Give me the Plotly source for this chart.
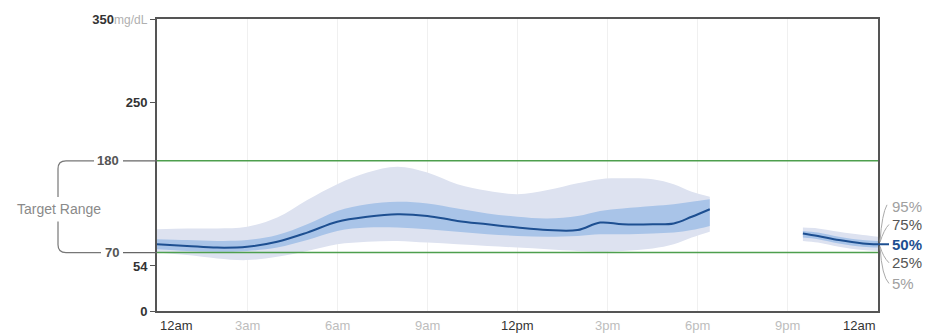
import plotly.graph_objects as go

# Ambulatory glucose profile: hour of day vs percentile glucose (mg/dL)
# Two data segments (no readings between ~6:30pm and 9:30pm)
hours_a = [0, 1, 2, 3, 4, 5, 6, 7, 8, 9, 10, 11, 12, 13, 14, 14.75, 15.5, 16.5, 17.2, 17.8, 18.4]
p95_a = [98, 99, 99, 101, 112, 133, 152, 166, 173, 166, 152, 144, 140, 145, 153, 158, 159, 158, 152, 143, 137]
p75_a = [86, 85, 84, 85, 91, 104, 120, 128, 131, 129, 123, 117, 113, 111, 114, 120, 123, 126, 128, 131, 134]
p50_a = [80, 78, 76, 77, 83, 94, 107, 113, 116, 114, 108, 104, 100, 97, 97, 106, 104, 104, 105, 113, 122]
p25_a = [74, 72, 71, 72, 76, 85, 96, 100, 100, 98, 95, 92, 90, 89, 90, 92, 92, 93, 94, 97, 102]
p5_a = [70, 67, 63, 61, 65, 72, 80, 83, 84, 82, 80, 78, 76, 74, 72, 71, 72, 75, 80, 88, 95]

hours_b = [21.5, 22, 22.7, 23.5, 24]
p95_b = [100, 99, 95, 91, 89]
p75_b = [96, 94, 89, 85, 84]
p50_b = [93, 90, 85, 81, 80]
p25_b = [88, 86, 81, 77, 76]
p5_b = [84, 82, 77, 73, 72]

target_low, target_high = 70, 180
y_ticks = [0, 54, 250, 350]
x_ticks = [0, 3, 6, 9, 12, 15, 18, 21, 24]
x_labels = ["12am", "3am", "6am", "9am", "12pm", "3pm", "6pm", "9pm", "12am"]
pct_labels = ["95%", "75%", "50%", "25%", "5%"]

# Plot box in pixels
W, H = 928, 336
L, R, T, B = 157, 878, 14, 311


def px(x):
    return (x - L) / (R - L)


def py(y):
    return (B - y) / (B - T)


def ypix(v):
    return B - (v / 350) * (B - T)


OUTER = "#dde2f0"
INNER = "#a9c4e8"
MEDIAN = "#1d4f91"
GREEN = "#4e9f4e"
FONT = "Liberation Sans, Arial, sans-serif"

fig = go.Figure()

for hrs, lo5, hi95, lo25, hi75, med in [
    (hours_a, p5_a, p95_a, p25_a, p75_a, p50_a),
    (hours_b, p5_b, p95_b, p25_b, p75_b, p50_b),
]:
    fig.add_trace(go.Scatter(x=hrs, y=lo5, mode="lines", line=dict(width=0, shape="spline"),
                             hoverinfo="skip", showlegend=False))
    fig.add_trace(go.Scatter(x=hrs, y=hi95, mode="lines", line=dict(width=0, shape="spline"),
                             fill="tonexty", fillcolor=OUTER, hoverinfo="skip", showlegend=False))
    fig.add_trace(go.Scatter(x=hrs, y=lo25, mode="lines", line=dict(width=0, shape="spline"),
                             hoverinfo="skip", showlegend=False))
    fig.add_trace(go.Scatter(x=hrs, y=hi75, mode="lines", line=dict(width=0, shape="spline"),
                             fill="tonexty", fillcolor=INNER, hoverinfo="skip", showlegend=False))
    fig.add_trace(go.Scatter(x=hrs, y=med, mode="lines", line=dict(width=2, color=MEDIAN, shape="spline"),
                             showlegend=False))

shapes = []
# Target range lines
for v in (target_low, target_high):
    shapes.append(dict(type="line", xref="x", yref="y", x0=0, x1=24, y0=v, y1=v,
                       line=dict(color=GREEN, width=1.5), layer="above"))
    shapes.append(dict(type="line", xref="paper", yref="paper", x0=px(123), x1=px(L),
                       y0=py(ypix(v)), y1=py(ypix(v)), line=dict(color="#666", width=1.2)))
# Noon divider
shapes.append(dict(type="line", xref="x", yref="paper", x0=12, x1=12, y0=0, y1=1,
                   line=dict(color="#999", width=1), layer="below"))

# Target range bracket
yh = ypix(target_high)
yl = ypix(target_low)
top_path = "M {},{} L {},{} Q {},{} {},{} L {},{}".format(
    px(94), py(yh), px(66), py(yh), px(58), py(yh), px(58), py(yh + 8), px(58), py(195))
bot_path = "M {},{} L {},{} Q {},{} {},{} L {},{}".format(
    px(58), py(220), px(58), py(yl - 8), px(58), py(yl), px(66), py(yl), px(101), py(yl))
for p in (top_path, bot_path):
    shapes.append(dict(type="path", xref="paper", yref="paper", path=p,
                       line=dict(color="#777", width=1.2)))

# Percentile connectors on the right
y_med_end = ypix(p50_b[-1])
label_y = [205, 223, y_med_end, 262, 283]
conn = [
    (880, y_med_end - 3, 882, 212, 887, 203),
    (880, y_med_end - 2, 884, 228, 889, 223),
    None,
    (880, y_med_end + 2, 883, 256, 889, 262),
    (880, y_med_end + 3, 882, 276, 889, 283),
]
for c in conn:
    if c is None:
        continue
    p = "M {},{} Q {},{} {},{}".format(px(c[0]), py(c[1]), px(c[2]), py(c[3]), px(c[4]), py(c[5]))
    shapes.append(dict(type="path", xref="paper", yref="paper", path=p,
                       line=dict(color="#aaa", width=1)))
shapes.append(dict(type="line", xref="paper", yref="paper", x0=px(R), x1=px(889),
                   y0=py(y_med_end), y1=py(y_med_end), line=dict(color=MEDIAN, width=2)))

annotations = []
# x labels
for i, (t, lab) in enumerate(zip(x_ticks, x_labels)):
    strong = lab in ("12am", "12pm")
    anchor = "center"
    xshift = 0
    if i == 0:
        anchor, xshift = "left", 1
    elif i == len(x_ticks) - 1:
        anchor, xshift = "right", 0
    annotations.append(dict(x=t, y=py(326), xref="x", yref="paper", text=lab, showarrow=False,
                            xanchor=anchor, yanchor="middle", xshift=xshift,
                            font=dict(family=FONT, size=13, color="#333" if strong else "#bdbdbd")))
# target range labels
for v in (target_high, target_low):
    annotations.append(dict(x=px(121), y=py(ypix(v)), xref="paper", yref="paper", text="<b>%d</b>" % v,
                            showarrow=False, xanchor="right", yanchor="middle",
                            font=dict(family=FONT, size=13, color="#555")))
annotations.append(dict(x=px(59), y=py(207), xref="paper", yref="paper", text="Target Range",
                        showarrow=False, xanchor="center", yanchor="middle",
                        font=dict(family=FONT, size=14, color="#8a8a8a")))
# percentile labels
pct_colors = ["#a0a0a0", "#555", MEDIAN, "#555", "#a0a0a0"]
for lab, yy, col in zip(pct_labels, label_y, pct_colors):
    txt = "<b>%s</b>" % lab if lab == "50%" else lab
    annotations.append(dict(x=px(890), y=py(yy), xref="paper", yref="paper", text=txt,
                            showarrow=False, xanchor="left", yanchor="middle",
                            font=dict(family=FONT, size=15, color=col)))

y_text = ["<b>%d</b>" % v for v in y_ticks]
y_text[-1] = "<b>350</b><span style='color:#b0b0b0;font-size:12px'>mg/dL</span>"

fig.update_layout(
    width=W, height=H,
    margin=dict(l=L, r=W - R, t=T, b=H - B, pad=0),
    paper_bgcolor="white", plot_bgcolor="white",
    font=dict(family=FONT, size=13, color="#333"),
    xaxis=dict(range=[0, 24], tickvals=x_ticks, showticklabels=False, showgrid=True,
               gridcolor="#f0f0f0", gridwidth=1, zeroline=False, showline=True, mirror=True,
               linecolor="#555", linewidth=2, ticks=""),
    yaxis=dict(range=[0, 350], tickvals=y_ticks, ticktext=y_text, showgrid=False, zeroline=False,
               showline=True, mirror=True, linecolor="#555", linewidth=2, ticks="outside",
               ticklen=5, tickcolor="#555", tickwidth=1,
               tickfont=dict(family=FONT, size=13, color="#333")),
    shapes=shapes,
    annotations=annotations,
)

fig.write_html("out.html")
